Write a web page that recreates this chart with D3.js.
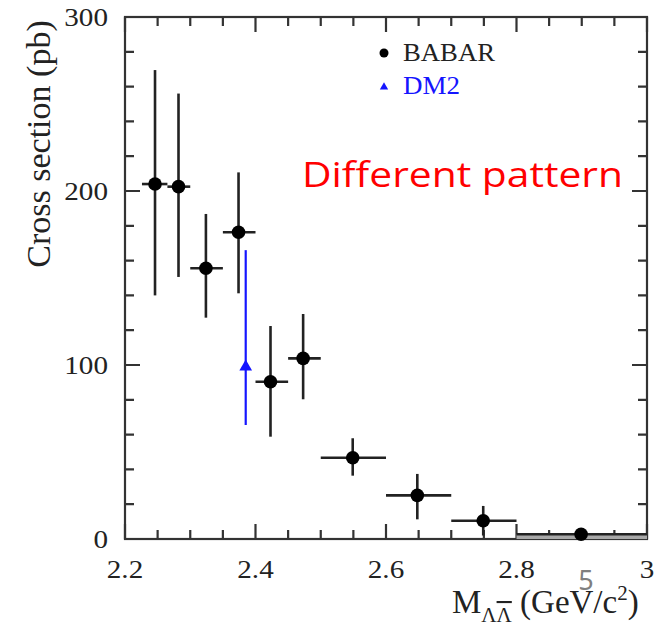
<!DOCTYPE html>
<html>
<head>
<meta charset="utf-8">
<script src="https://cdn.jsdelivr.net/npm/d3@7"></script>
<style>
  html, body { margin: 0; padding: 0; background: #fff; }
  svg { display: block; }
</style>
</head>
<body>
<svg id="chart" width="665" height="626"></svg>
<script>
// ---- data ----
const babarX   = [2.246, 2.282, 2.324, 2.374, 2.423, 2.473, 2.549, 2.648, 2.749, 2.899];
const babarXlo = [2.226, 2.265, 2.300, 2.350, 2.400, 2.450, 2.500, 2.600, 2.700, 2.800];
const babarXhi = [2.265, 2.300, 2.350, 2.400, 2.450, 2.500, 2.600, 2.700, 2.800, 3.000];
const babarY   = [204, 202.5, 155.6, 176.3, 90.4, 103.8, 46.7, 25.1, 10.5, 2.7];
const babarYlo = [140, 150.6, 127.2, 141.2, 58.8, 80.3, 36.4, 11.3, 2.0, 1.0];
const babarYhi = [269.5, 256, 186.8, 210.7, 122.4, 129.3, 57.9, 37.4, 19.0, 4.5];

const dm2X   = [2.385];
const dm2Y   = [99.5];
const dm2Ylo = [65.5];
const dm2Yhi = [166];

const xMajorTicks = [2.2, 2.4, 2.6, 2.8, 3.0];
const xTickLabels = ["2.2", "2.4", "2.6", "2.8", "3"];
const yMajorTicks = [0, 100, 200, 300];
const yTickLabels = ["0", "100", "200", "300"];
const legendLabels = ["BABAR", "DM2"];

// ---- layout ----
const svg = d3.select("#chart");
const L = 125, R = 647, T = 17, B = 539;
const x = d3.scaleLinear().domain([2.2, 3.0]).range([L, R]);
const y = d3.scaleLinear().domain([0, 300]).range([B, T]);

const axisColor = "#333";
const serif = "Liberation Serif, Times New Roman, serif";

const xMinor = d3.range(0, 17).map(i => +(2.2 + i * 0.05).toFixed(2));
const yMinor = d3.range(0, 16).map(i => i * 20);
const isXMajor = v => xMajorTicks.some(m => Math.abs(m - v) < 1e-6);
const isYMajor = v => yMajorTicks.some(m => Math.abs(m - v) < 1e-6);

// ticks as one path, inward on all four sides
let dTicks = "";
xMinor.forEach(v => {
  const len = isXMajor(v) ? 15 : 9;
  const px = x(v);
  dTicks += `M${px},${B}V${B - len}M${px},${T}V${T + len}`;
});
yMinor.forEach(v => {
  const len = isYMajor(v) ? 15 : 9;
  const py = y(v);
  dTicks += `M${L},${py}H${L + len}M${R},${py}H${R - len}`;
});
svg.append("path").attr("d", dTicks)
  .attr("fill", "none").attr("stroke", axisColor).attr("stroke-width", 2.2);

// tick labels
const xl = svg.append("g").selectAll("text").data(xMajorTicks).join("text")
  .attr("x", d => x(d)).attr("y", 578).attr("text-anchor", "middle")
  .attr("font-family", serif).attr("font-size", 26).attr("fill", "#222")
  .text((d, i) => xTickLabels[i]);
const yl = svg.append("g").selectAll("text").data(yMajorTicks).join("text")
  .attr("x", 108).attr("y", d => y(d) + 9).attr("text-anchor", "end")
  .attr("font-family", serif).attr("font-size", 26).attr("fill", "#222")
  .text((d, i) => yTickLabels[i]);
[xl, yl].forEach(sel => sel.each(function () {
  const w = this.getComputedTextLength();
  d3.select(this).attr("textLength", w * 1.12).attr("lengthAdjust", "spacingAndGlyphs");
}));

// frame
svg.append("rect").attr("x", L).attr("y", T).attr("width", R - L).attr("height", B - T)
  .attr("fill", "none").attr("stroke", axisColor).attr("stroke-width", 2.2);

// ---- BABAR data ----
const babar = babarX.map((v, i) => ({
  x: v, xlo: babarXlo[i], xhi: babarXhi[i], y: babarY[i], ylo: babarYlo[i], yhi: babarYhi[i]
}));

const last = babar[babar.length - 1];
svg.append("rect")
  .attr("x", x(last.xlo)).attr("width", x(last.xhi) - x(last.xlo))
  .attr("y", y(last.y)).attr("height", y(0) - y(last.y))
  .attr("fill", "#a8a8a8");

const gB = svg.append("g");
gB.selectAll("line.h").data(babar).join("line").attr("class", "h")
  .attr("x1", d => x(d.xlo)).attr("x2", d => x(d.xhi))
  .attr("y1", d => y(d.y)).attr("y2", d => y(d.y))
  .attr("stroke", "#222").attr("stroke-width", 2.6);
gB.selectAll("line.v").data(babar).join("line").attr("class", "v")
  .attr("x1", d => x(d.x)).attr("x2", d => x(d.x))
  .attr("y1", d => y(d.ylo)).attr("y2", d => y(d.yhi))
  .attr("stroke", "#222").attr("stroke-width", 2.6);
gB.selectAll("circle").data(babar).join("circle")
  .attr("cx", d => x(d.x)).attr("cy", d => y(d.y)).attr("r", 6.8)
  .attr("fill", "#000");

// ---- DM2 data ----
const blue = "#1515ff";
const dm2 = dm2X.map((v, i) => ({ x: v, y: dm2Y[i], ylo: dm2Ylo[i], yhi: dm2Yhi[i] }));
const gD = svg.append("g");
gD.selectAll("line").data(dm2).join("line")
  .attr("x1", d => x(d.x)).attr("x2", d => x(d.x))
  .attr("y1", d => y(d.ylo)).attr("y2", d => y(d.yhi))
  .attr("stroke", blue).attr("stroke-width", 2.2);
const tri = d3.symbol().type(d3.symbolTriangle).size(70);
gD.selectAll("path").data(dm2).join("path")
  .attr("d", tri)
  .attr("transform", d => `translate(${x(d.x)},${y(d.y) + 1})`)
  .attr("fill", blue);

// ---- legend ----
svg.append("circle").attr("cx", 384).attr("cy", 53).attr("r", 4.5).attr("fill", "#000");
svg.append("path").attr("d", d3.symbol().type(d3.symbolTriangle).size(30))
  .attr("transform", "translate(384,87)").attr("fill", blue);
svg.append("text").attr("x", 403).attr("y", 61).text(legendLabels[0])
  .attr("font-family", serif).attr("font-size", 25).attr("fill", "#222")
  .attr("textLength", 92).attr("lengthAdjust", "spacingAndGlyphs");
svg.append("text").attr("x", 403).attr("y", 94).text(legendLabels[1])
  .attr("font-family", serif).attr("font-size", 25).attr("fill", blue)
  .attr("textLength", 57).attr("lengthAdjust", "spacingAndGlyphs");

// ---- axis titles ----
svg.append("text")
  .attr("transform", "translate(50,144) rotate(-90)")
  .attr("text-anchor", "middle")
  .attr("font-family", serif).attr("font-size", 34).attr("fill", "#222")
  .text("Cross section (pb)");

const xt = svg.append("text").attr("x", 452).attr("y", 613)
  .attr("font-family", serif).attr("font-size", 33).attr("fill", "#222");
xt.append("tspan").text("M");
xt.append("tspan").attr("font-size", 21).attr("dy", 9).text("Λ");
xt.append("tspan").attr("font-size", 21).attr("text-decoration", "overline").text("Λ");
xt.append("tspan").attr("dy", -9).text("\u00a0(GeV/c");
xt.append("tspan").attr("font-size", 21).attr("dy", -13).text("2");
xt.append("tspan").attr("dy", 13).text(")");

// ---- overlay annotations ----
svg.append("text").attr("x", 302).attr("y", 187)
  .attr("font-family", "Open Sans, Noto Sans, sans-serif").attr("font-size", 34)
  .attr("fill", "#ff0000")
  .attr("textLength", 321).attr("lengthAdjust", "spacingAndGlyphs")
  .text("Different pattern");

svg.append("text").attr("x", 586).attr("y", 590).attr("text-anchor", "middle")
  .attr("font-family", "Noto Sans, Open Sans, sans-serif").attr("font-size", 27)
  .attr("fill", "#7f7f7f")
  .text("5");
</script>
</body>
</html>
